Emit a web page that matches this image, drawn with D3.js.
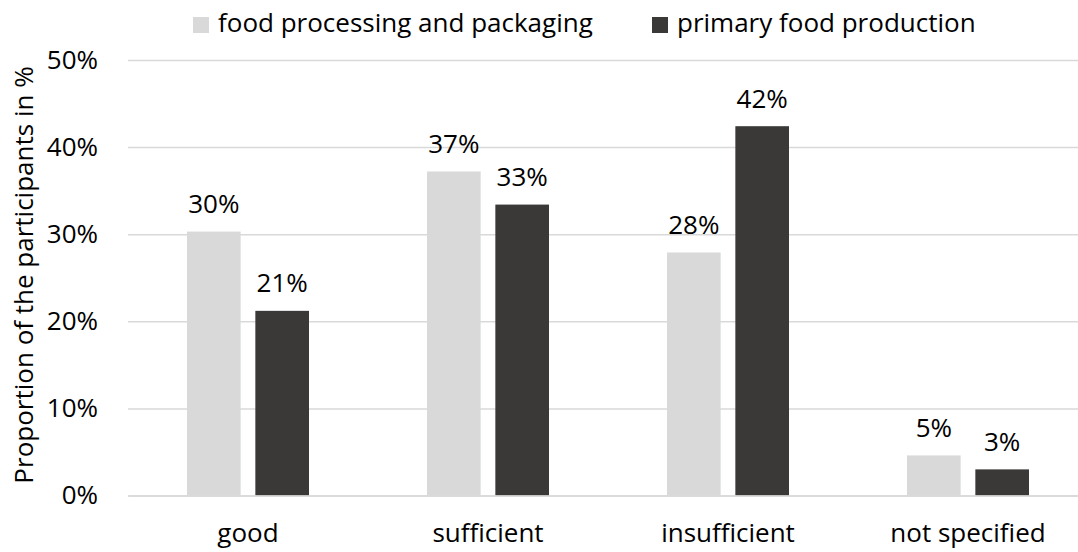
<!DOCTYPE html>
<html>
<head>
<meta charset="utf-8">
<script src="https://cdn.jsdelivr.net/npm/d3@7"></script>
<style>
  body { margin: 0; background: #fff; }
  text { font-family: "Open Sans", sans-serif; fill: #000; }
</style>
</head>
<body>
<div id="chart"></div>
<script>
// data
var categories = ["good", "sufficient", "insufficient", "not specified"];
var seriesNames = ["food processing and packaging", "primary food production"];
var processingValues = [30.3, 37.2, 27.9, 4.6];
var primaryValues = [21.2, 33.4, 42.4, 3.0];
var yTicks = [0, 10, 20, 30, 40, 50];

var chart_width = 1078;
var chart_height = 552;
var colors = ["#d9d9d9", "#3a3937"];

var svg = d3.select("#chart")
  .append("svg")
  .attr("width", chart_width)
  .attr("height", chart_height);

// scales
var x_scale = d3.scaleBand()
  .domain(categories)
  .range([128, 1088]);

var x_inner = d3.scaleBand()
  .domain([0, 1])
  .range([0, 122])
  .paddingInner(0.215);

var y_scale = d3.scaleLinear()
  .domain([0, 50])
  .range([495.5, 60]);

// gridlines + tick labels
var yAxis = d3.axisLeft(y_scale)
  .tickValues(yTicks)
  .tickSize(-(1088 - 128))
  .tickPadding(30)
  .tickFormat(function(d) { return d + "%"; });

var gy = svg.append("g")
  .attr("class", "y-axis")
  .attr("transform", "translate(128,0)")
  .call(yAxis);

gy.select(".domain").remove();
gy.selectAll(".tick line")
  .attr("stroke", "#d9d9d9")
  .attr("stroke-width", 1.5);
gy.selectAll(".tick text")
  .attr("font-size", 26)
  .attr("fill", "#000")
  .attr("dy", "0.32em");

// bars
var rows = categories.map(function(c, i) {
  return { cat: c, vals: [processingValues[i], primaryValues[i]] };
});

var groups = svg.selectAll(".grp")
  .data(rows)
  .enter()
  .append("g")
  .attr("class", "grp")
  .attr("transform", function(d) {
    return "translate(" + (x_scale(d.cat) + x_scale.bandwidth() / 2 - 61) + ",0)";
  });

groups.selectAll("rect")
  .data(function(d) { return d.vals; })
  .enter()
  .append("rect")
  .attr("x", function(d, i) { return x_inner(i); })
  .attr("y", function(d) { return y_scale(d); })
  .attr("width", x_inner.bandwidth())
  .attr("height", function(d) { return y_scale(0) - y_scale(d); })
  .attr("fill", function(d, i) { return colors[i]; });

groups.selectAll("text.lbl")
  .data(function(d) { return d.vals; })
  .enter()
  .append("text")
  .attr("class", "lbl")
  .attr("x", function(d, i) { return x_inner(i) + x_inner.bandwidth() / 2; })
  .attr("y", function(d) { return y_scale(d) - 18.5; })
  .attr("text-anchor", "middle")
  .attr("font-size", 26)
  .text(function(d) { return Math.round(d) + "%"; });

// x axis line + labels
var xAxis = d3.axisBottom(x_scale).tickSize(0).tickPadding(28);
var gx = svg.append("g")
  .attr("class", "x-axis")
  .attr("transform", "translate(0," + y_scale(0) + ")")
  .call(xAxis);
gx.select(".domain").attr("stroke", "#d9d9d9").attr("stroke-width", 1.5);
gx.selectAll(".tick text")
  .attr("font-size", 26)
  .attr("fill", "#000");

// y title
svg.append("text")
  .attr("transform", "translate(33,275) rotate(-90)")
  .attr("text-anchor", "middle")
  .attr("font-size", 26)
  .text("Proportion of the participants in %");

// legend
var legendX = [193, 652];
var legend = svg.selectAll(".legend")
  .data(seriesNames)
  .enter()
  .append("g")
  .attr("class", "legend")
  .attr("transform", function(d, i) { return "translate(" + legendX[i] + ",0)"; });

legend.append("rect")
  .attr("x", 0)
  .attr("y", 17)
  .attr("width", 16)
  .attr("height", 16)
  .attr("fill", function(d, i) { return colors[i]; });

legend.append("text")
  .attr("x", 25)
  .attr("y", 23)
  .attr("dy", "0.35em")
  .attr("font-size", 26)
  .text(function(d) { return d; });
</script>
</body>
</html>
